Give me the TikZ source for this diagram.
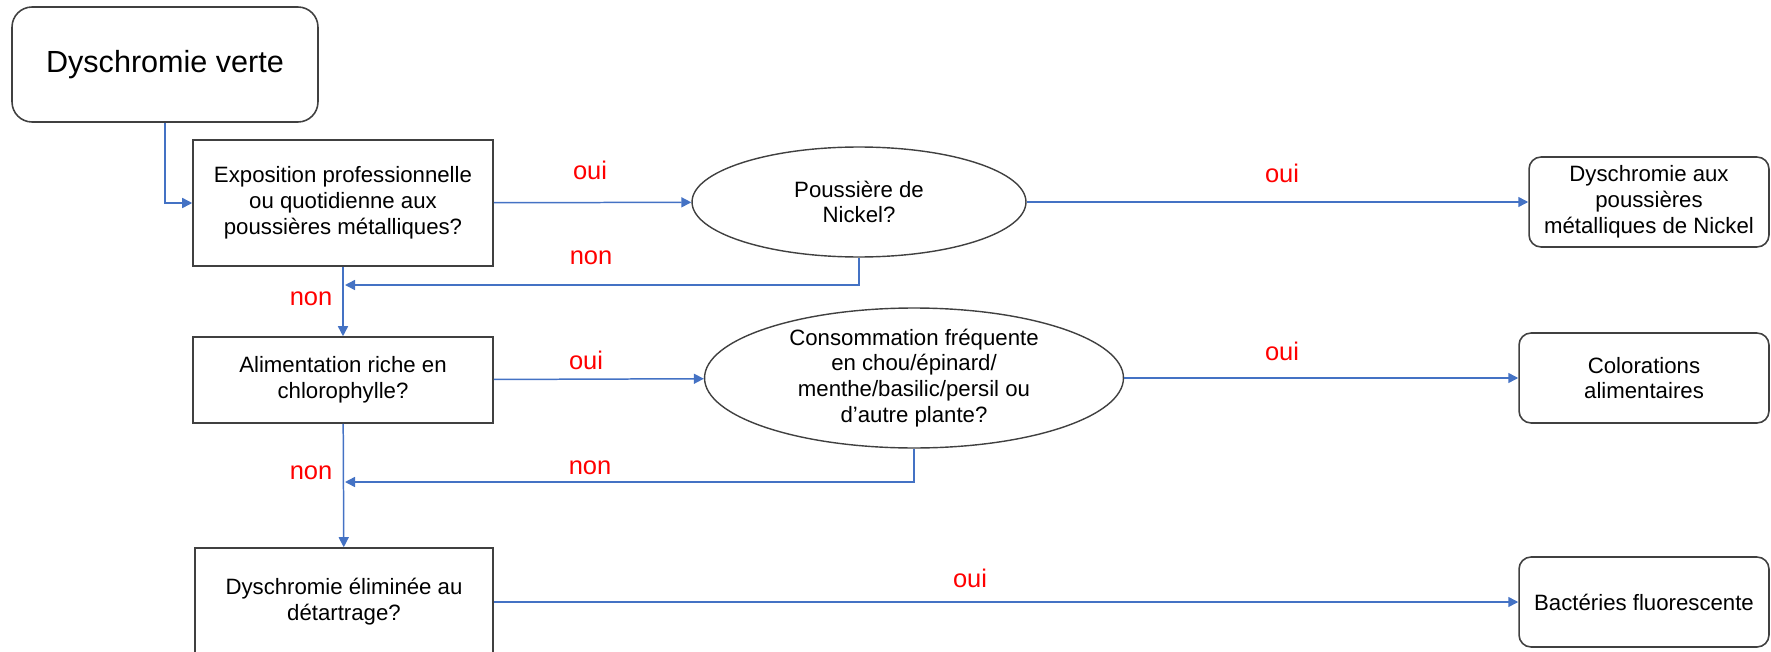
\documentclass[tikz,border=0pt]{standalone}
\usepackage{fontspec}
\setmainfont{Liberation Sans}
\usetikzlibrary{shapes.geometric,arrows.meta}

\definecolor{linkblue}{RGB}{68,114,196}
\definecolor{framegray}{RGB}{64,64,64}

\tikzset{
  bodytext/.style={font=\fontsize{12.64}{14.7}\selectfont, align=center, inner sep=0pt},
  startbox/.style={draw=framegray, line width=0.9pt, rounded corners=0.4cm,
    minimum width=6.12cm, minimum height=2.3cm, inner sep=0pt,
    font=\fontsize{17.4}{20}\selectfont},
  question/.style={bodytext, draw=framegray, line width=0.9pt, rectangle},
  subquestion/.style={bodytext, draw=framegray, line width=0.8pt, ellipse},
  outcome/.style={bodytext, draw=framegray, line width=0.9pt, rounded corners=0.24cm,
    minimum width=5cm, minimum height=1.8cm},
  answer/.style={text=red, inner sep=0pt, font=\fontsize{14.5}{16}\selectfont},
  link/.style={draw=linkblue, line width=0.85pt, -{Triangle[length=0.2cm,width=0.2cm]}}
}

\begin{document}
\begin{tikzpicture}[x=0.02cm, y=-0.02cm]
  \useasboundingbox (0,0) rectangle (1771,652);
  \draw
    (165,64.5) node[startbox] (start) {Dyschromie verte}
    (343,203) node[question, minimum width=6cm, minimum height=2.52cm] (q1)
      {Exposition professionnelle\\ou quotidienne aux\\poussières métalliques?}
    (343,380) node[question, minimum width=6cm, minimum height=1.72cm] (q2)
      {Alimentation riche en\\chlorophylle?}
    (344,602) node[question, minimum width=5.96cm, minimum height=2.16cm] (q3)
      {Dyschromie éliminée au\\détartrage?}
    (859,202) node[subquestion, minimum width=6.68cm, minimum height=2.2cm] (e1)
      {Poussière de\\Nickel?}
    (914,378) node[subquestion, minimum width=8.38cm, minimum height=2.8cm] (e2)
      {Consommation fréquente\\en chou/épinard/\\menthe/basilic/persil ou\\d’autre plante?}
    (1649,202) node[outcome, minimum width=4.8cm] (r1)
      {Dyschromie aux\\poussières\\métalliques de Nickel}
    (1644,378) node[outcome] (r2) {Colorations\\alimentaires}
    (1644,602) node[outcome] (r3) {Bactéries fluorescente};
  \coordinate (m1) at (345,285);
  \coordinate (m2) at (345,482);
  \begin{scope}[link]
    \draw (start) |- (q1);
    \draw (q1) -- (e1);
    \draw (e1) -- (r1);
    \draw (e1) |- (m1);
    \draw (q1) -- (q2);
    \draw (q2) -- (e2);
    \draw (e2) -- (r2);
    \draw (e2) |- (m2);
    \draw (q2) -- (q3);
    \draw (q3) -- (r3);
  \end{scope}
  \node[answer] (oui1) at (590,170) {oui};
  \node[answer] (oui2) at (1282,173) {oui};
  \node[answer] (non1) at (591,258) {non};
  \node[answer] (non2) at (311,299) {non};
  \node[answer] (oui3) at (586,360) {oui};
  \node[answer] (oui4) at (1282,351) {oui};
  \node[answer] (non3) at (590,468) {non};
  \node[answer] (non4) at (311,473) {non};
  \node[answer] (oui5) at (970,578) {oui};
\end{tikzpicture}
\end{document}
